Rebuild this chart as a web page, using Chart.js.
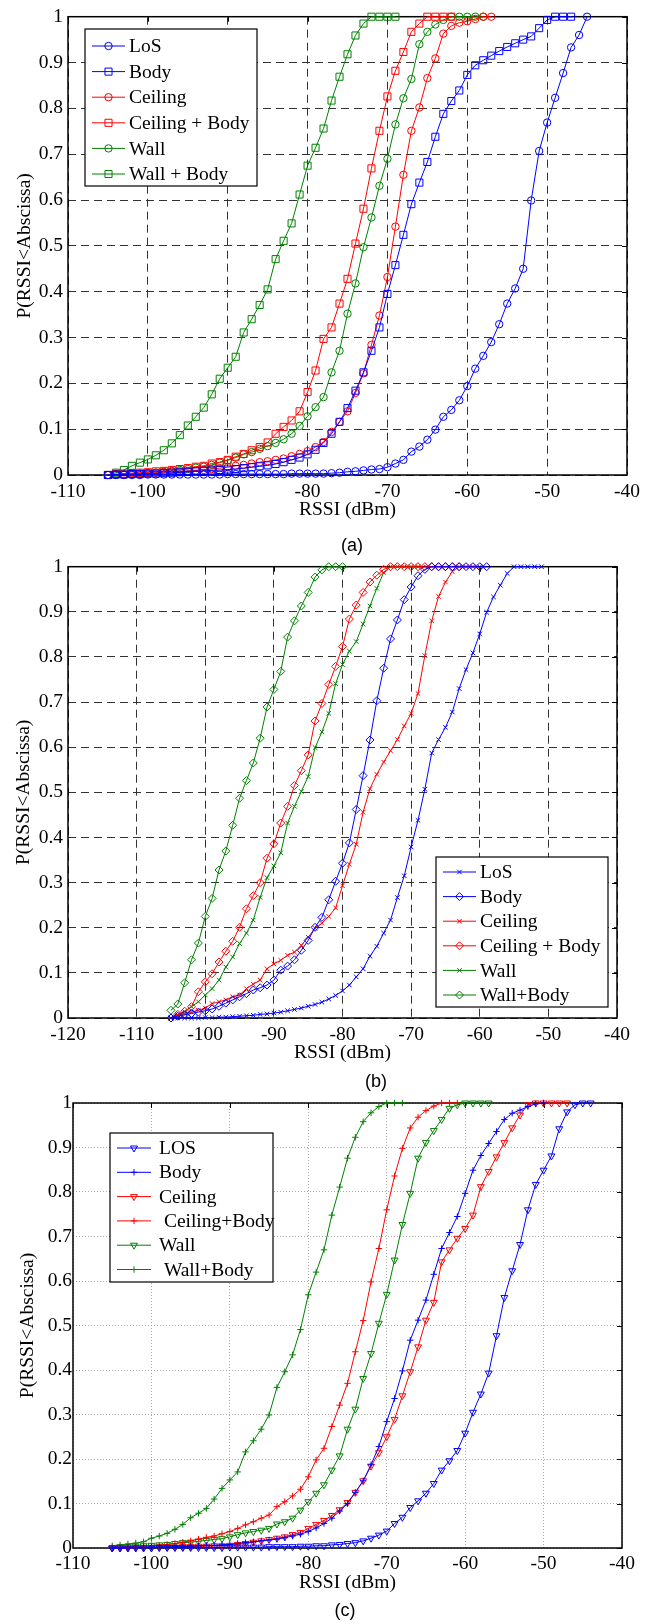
<!DOCTYPE html>
<html>
<head>
<meta charset="utf-8">
<script src="https://cdn.jsdelivr.net/npm/chart.js@4.4.0/dist/chart.umd.min.js"></script>
<style>
  html, body { margin: 0; padding: 0; background: #fff; }
  body { width: 655px; height: 1624px; position: relative; overflow: hidden; }
  canvas { position: absolute; left: 0; }
  .tag { position: absolute; font-family: "Liberation Sans", Arial, sans-serif; font-size: 18px; color: #000;
         transform: translate(-50%, -50%); white-space: nowrap; }
  .probe { position: absolute; left: -999px; top: 0; font-family: "Liberation Serif"; font-size: 10px; }
</style>
</head>
<body>
<span class="probe">P(RSSI&lt;Abscissa) 0.9</span>
<canvas id="chartA" width="655" height="530" style="top:0px"></canvas>
<canvas id="chartB" width="655" height="523" style="top:550px"></canvas>
<canvas id="chartC" width="655" height="513" style="top:1090px"></canvas>
<div class="tag" style="left:352px;top:545px">(a)</div>
<div class="tag" style="left:376px;top:1081px">(b)</div>
<div class="tag" style="left:345px;top:1610px">(c)</div>
<script>
// RSSI steps (dBm), each series starts at -105 and runs as far as its array
const rssi = [-105, -104, -103, -102, -101, -100, -99, -98, -97, -96,
  -95, -94, -93, -92, -91, -90, -89, -88, -87, -86,
  -85, -84, -83, -82, -81, -80, -79, -78, -77, -76,
  -75, -74, -73, -72, -71, -70, -69, -68, -67, -66,
  -65, -64, -63, -62, -61, -60, -59, -58, -57, -56,
  -55, -54, -53, -52, -51, -50, -49, -48, -47, -46,
  -45, -44];

const yTicks = [0, 0.1, 0.2, 0.3, 0.4, 0.5, 0.6, 0.7, 0.8, 0.9, 1];

// panel (a)
const labelsA = ['LoS', 'Body', 'Ceiling', 'Ceiling + Body', 'Wall', 'Wall + Body'];
const aLos = [0, 0, 0, 0, 0, 0.001, 0.001, 0.001, 0.001, 0.001,
  0.001, 0.001, 0.001, 0.001, 0.001, 0.002, 0.002, 0.002, 0.002, 0.002,
  0.002, 0.002, 0.002, 0.003, 0.003, 0.003, 0.003, 0.003, 0.004, 0.005,
  0.007, 0.008, 0.01, 0.012, 0.013, 0.017, 0.025, 0.033, 0.051, 0.062,
  0.077, 0.099, 0.127, 0.142, 0.163, 0.194, 0.232, 0.26, 0.29, 0.329,
  0.374, 0.407, 0.45, 0.599, 0.707, 0.769, 0.823, 0.877, 0.933, 0.96,
  1];
const aBody = [0, 0.001, 0.001, 0.002, 0.002, 0.003, 0.003, 0.004, 0.005, 0.006,
  0.007, 0.008, 0.009, 0.01, 0.011, 0.012, 0.013, 0.015, 0.017, 0.019,
  0.021, 0.024, 0.028, 0.033, 0.038, 0.045, 0.055, 0.07, 0.09, 0.116,
  0.146, 0.184, 0.224, 0.271, 0.322, 0.395, 0.458, 0.524, 0.591, 0.638,
  0.683, 0.738, 0.788, 0.816, 0.839, 0.873, 0.894, 0.905, 0.915, 0.925,
  0.934, 0.942, 0.95, 0.957, 0.975, 0.993, 1, 1, 1];
const aCeiling = [0, 0.001, 0.001, 0.002, 0.003, 0.004, 0.005, 0.006, 0.007, 0.008,
  0.009, 0.01, 0.011, 0.013, 0.015, 0.017, 0.02, 0.022, 0.025, 0.028,
  0.03, 0.033, 0.036, 0.041, 0.046, 0.052, 0.061, 0.072, 0.094, 0.116,
  0.139, 0.179, 0.222, 0.284, 0.348, 0.432, 0.542, 0.655, 0.751, 0.802,
  0.866, 0.909, 0.963, 0.98, 0.987, 0.99, 0.995, 1, 1];
const aCeilingBody = [0, 0.002, 0.003, 0.004, 0.005, 0.006, 0.008, 0.009, 0.011, 0.013,
  0.015, 0.018, 0.02, 0.025, 0.028, 0.033, 0.04, 0.046, 0.054, 0.061,
  0.071, 0.09, 0.105, 0.119, 0.139, 0.181, 0.228, 0.297, 0.322, 0.374,
  0.428, 0.505, 0.581, 0.669, 0.751, 0.826, 0.882, 0.923, 0.967, 0.985,
  1, 1, 1, 1];
const aWall = [0, 0.001, 0.001, 0.002, 0.003, 0.004, 0.005, 0.007, 0.009, 0.011,
  0.013, 0.016, 0.018, 0.022, 0.027, 0.032, 0.038, 0.045, 0.05, 0.057,
  0.063, 0.07, 0.078, 0.09, 0.107, 0.128, 0.148, 0.17, 0.224, 0.271,
  0.352, 0.418, 0.497, 0.562, 0.631, 0.69, 0.765, 0.822, 0.864, 0.94,
  0.967, 0.983, 0.993, 1, 1, 1, 1, 1];
const aWallBody = [0, 0.005, 0.011, 0.02, 0.027, 0.034, 0.043, 0.054, 0.069, 0.087,
  0.108, 0.127, 0.147, 0.176, 0.21, 0.234, 0.258, 0.311, 0.34, 0.371,
  0.405, 0.471, 0.511, 0.549, 0.612, 0.675, 0.714, 0.756, 0.817, 0.869,
  0.918, 0.959, 0.985, 1, 1, 1, 1];

// panel (b)
const labelsB = ['LoS', 'Body', 'Ceiling', 'Ceiling + Body', 'Wall', 'Wall+Body'];
const bLos = [0, 0, 0, 0, 0, 0.001, 0.001, 0.002, 0.002, 0.003,
  0.004, 0.005, 0.006, 0.008, 0.009, 0.011, 0.013, 0.016, 0.019, 0.022,
  0.026, 0.03, 0.035, 0.042, 0.05, 0.06, 0.073, 0.091, 0.109, 0.137,
  0.159, 0.188, 0.217, 0.267, 0.315, 0.379, 0.438, 0.507, 0.587, 0.617,
  0.644, 0.678, 0.73, 0.772, 0.809, 0.851, 0.899, 0.933, 0.959, 0.985,
  1, 1, 1, 1, 1];
const bBody = [0, 0.004, 0.007, 0.01, 0.013, 0.016, 0.02, 0.026, 0.033, 0.04,
  0.047, 0.054, 0.062, 0.067, 0.073, 0.084, 0.106, 0.115, 0.129, 0.15,
  0.172, 0.201, 0.223, 0.262, 0.303, 0.343, 0.388, 0.462, 0.537, 0.616,
  0.703, 0.775, 0.84, 0.882, 0.927, 0.955, 0.98, 0.994, 1, 1,
  1, 1, 1, 1, 1, 1, 1];
const bCeiling = [0, 0.005, 0.01, 0.013, 0.017, 0.022, 0.032, 0.036, 0.04, 0.047,
  0.051, 0.065, 0.075, 0.084, 0.109, 0.12, 0.128, 0.139, 0.146, 0.161,
  0.179, 0.199, 0.21, 0.225, 0.244, 0.293, 0.341, 0.385, 0.456, 0.508,
  0.54, 0.567, 0.592, 0.617, 0.647, 0.675, 0.719, 0.803, 0.88, 0.934,
  0.966, 0.989, 1, 1, 1, 1];
const bCeilingBody = [0, 0.008, 0.015, 0.025, 0.058, 0.08, 0.098, 0.124, 0.148, 0.17,
  0.201, 0.242, 0.271, 0.3, 0.354, 0.386, 0.432, 0.469, 0.515, 0.548,
  0.583, 0.658, 0.697, 0.739, 0.779, 0.823, 0.884, 0.915, 0.943, 0.966,
  0.981, 0.994, 1, 1, 1, 1, 1, 1, 1, 1,
  1, 1, 1];
const bWall = [0, 0.007, 0.014, 0.025, 0.036, 0.051, 0.065, 0.084, 0.113, 0.135,
  0.165, 0.188, 0.217, 0.267, 0.311, 0.337, 0.366, 0.432, 0.469, 0.502,
  0.535, 0.599, 0.634, 0.675, 0.741, 0.783, 0.813, 0.834, 0.873, 0.913,
  0.952, 0.987, 1, 1, 1, 1, 1];
const bWallBody = [0.017, 0.031, 0.078, 0.129, 0.166, 0.225, 0.265, 0.328, 0.37, 0.427,
  0.487, 0.526, 0.565, 0.62, 0.689, 0.728, 0.768, 0.844, 0.88, 0.913,
  0.943, 0.977, 0.993, 1, 1, 1];

// panel (c)
const labelsC = ['LOS', 'Body', 'Ceiling', ' Ceiling+Body', 'Wall', ' Wall+Body'];
const cLos = [0, 0, 0, 0, 0, 0, 0.001, 0.001, 0.001, 0.001,
  0.001, 0.001, 0.001, 0.001, 0.001, 0.002, 0.002, 0.002, 0.002, 0.002,
  0.003, 0.003, 0.003, 0.003, 0.004, 0.004, 0.005, 0.005, 0.007, 0.008,
  0.01, 0.012, 0.016, 0.022, 0.029, 0.038, 0.055, 0.069, 0.091, 0.106,
  0.123, 0.145, 0.175, 0.196, 0.219, 0.258, 0.305, 0.346, 0.393, 0.477,
  0.563, 0.623, 0.682, 0.76, 0.817, 0.849, 0.881, 0.942, 0.98, 0.996,
  1, 1];
const cBody = [0, 0, 0.001, 0.001, 0.001, 0.002, 0.002, 0.003, 0.003, 0.004,
  0.004, 0.005, 0.006, 0.006, 0.007, 0.008, 0.01, 0.012, 0.014, 0.016,
  0.018, 0.02, 0.023, 0.027, 0.031, 0.037, 0.045, 0.055, 0.067, 0.083,
  0.1, 0.125, 0.151, 0.187, 0.228, 0.284, 0.336, 0.398, 0.467, 0.512,
  0.557, 0.615, 0.673, 0.709, 0.745, 0.797, 0.849, 0.882, 0.909, 0.936,
  0.963, 0.977, 0.984, 0.992, 0.998, 1];
const cCeiling = [0, 0, 0, 0.001, 0.001, 0.001, 0.002, 0.002, 0.002, 0.003,
  0.003, 0.004, 0.004, 0.005, 0.005, 0.006, 0.008, 0.01, 0.013, 0.016,
  0.019, 0.022, 0.025, 0.03, 0.035, 0.044, 0.053, 0.062, 0.073, 0.086,
  0.102, 0.125, 0.151, 0.184, 0.214, 0.25, 0.289, 0.342, 0.396, 0.452,
  0.512, 0.552, 0.643, 0.67, 0.696, 0.718, 0.748, 0.812, 0.846, 0.879,
  0.911, 0.944, 0.973, 0.996, 1, 1, 1, 1, 1];
const cCeilingBody = [0, 0.001, 0.002, 0.003, 0.004, 0.005, 0.006, 0.008, 0.01, 0.013,
  0.016, 0.02, 0.024, 0.027, 0.032, 0.037, 0.044, 0.052, 0.059, 0.067,
  0.074, 0.093, 0.104, 0.117, 0.132, 0.16, 0.198, 0.224, 0.273, 0.321,
  0.37, 0.441, 0.511, 0.598, 0.673, 0.76, 0.836, 0.898, 0.944, 0.968,
  0.983, 0.993, 1, 1, 1];
const cWall = [0, 0.002, 0.003, 0.004, 0.005, 0.006, 0.007, 0.008, 0.01, 0.012,
  0.013, 0.015, 0.017, 0.019, 0.021, 0.025, 0.03, 0.034, 0.037, 0.04,
  0.044, 0.054, 0.059, 0.067, 0.085, 0.104, 0.123, 0.142, 0.175, 0.207,
  0.267, 0.312, 0.381, 0.437, 0.505, 0.57, 0.647, 0.727, 0.797, 0.876,
  0.911, 0.938, 0.963, 0.988, 0.996, 1, 1, 1, 1];
const cWallBody = [0.005, 0.007, 0.009, 0.011, 0.014, 0.022, 0.027, 0.033, 0.042, 0.053,
  0.068, 0.078, 0.089, 0.11, 0.134, 0.153, 0.171, 0.216, 0.241, 0.267,
  0.299, 0.361, 0.396, 0.434, 0.491, 0.569, 0.62, 0.67, 0.748, 0.811,
  0.876, 0.923, 0.958, 0.978, 0.992, 1, 1, 1];

const colors = ['#0000ff', '#0000ff', '#ff0000', '#ff0000', '#008000', '#008000'];
const serif = { family: "'Liberation Serif', 'DejaVu Serif', serif", size: 19.5 };

function drawMarker(ctx, style, r, rot, x, y) {
  const rad = (rot || 0) * Math.PI / 180;
  ctx.beginPath();
  if (style === 'circle') {
    ctx.arc(x, y, r, 0, Math.PI * 2);
  } else if (style === 'rect') {
    const s = r * Math.SQRT1_2;
    ctx.rect(x - s, y - s, 2 * s, 2 * s);
  } else if (style === 'rectRot') {
    ctx.moveTo(x - r, y); ctx.lineTo(x, y - r); ctx.lineTo(x + r, y); ctx.lineTo(x, y + r);
    ctx.closePath();
  } else if (style === 'triangle') {
    for (let k = 0; k < 3; k++) {
      const a = rad + k * 2 * Math.PI / 3;
      const px = x + Math.sin(a) * r, py = y - Math.cos(a) * r;
      if (k) ctx.lineTo(px, py); else ctx.moveTo(px, py);
    }
    ctx.closePath();
  } else if (style === 'cross') {
    ctx.moveTo(x, y - r); ctx.lineTo(x, y + r); ctx.moveTo(x - r, y); ctx.lineTo(x + r, y);
  } else if (style === 'crossRot') {
    const d = r * Math.SQRT1_2;
    ctx.moveTo(x - d, y - d); ctx.lineTo(x + d, y + d); ctx.moveTo(x - d, y + d); ctx.lineTo(x + d, y - d);
  }
  ctx.stroke();
}

// box + inner tick marks, matlab style
const frame = {
  id: 'frame',
  beforeDatasetsDraw(chart) {
    const { ctx, chartArea: a, scales } = chart;
    ctx.save();
    ctx.strokeStyle = '#000';
    ctx.lineWidth = 1;
    ctx.beginPath();
    scales.y.ticks.forEach(t => {
      const y = Math.round(scales.y.getPixelForValue(t.value)) + 0.5;
      ctx.moveTo(a.right - 5, y); ctx.lineTo(a.right, y);
    });
    scales.x.ticks.forEach(t => {
      const x = Math.round(scales.x.getPixelForValue(t.value)) + 0.5;
      ctx.moveTo(x, a.top); ctx.lineTo(x, a.top + 5);
    });
    ctx.stroke();
    ctx.lineWidth = 1.5;
    ctx.strokeRect(a.left, a.top, a.right - a.left, a.bottom - a.top);
    ctx.restore();
  }
};

const boxLegend = {
  id: 'boxLegend',
  afterDraw(chart, args, o) {
    const ctx = chart.ctx;
    ctx.save();
    ctx.fillStyle = '#fff';
    ctx.fillRect(o.x, o.y, o.w, o.h);
    ctx.strokeStyle = '#000';
    ctx.lineWidth = 1.2;
    ctx.strokeRect(o.x, o.y, o.w, o.h);
    ctx.font = serif.size + 'px ' + serif.family;
    ctx.textBaseline = 'middle';
    chart.data.datasets.forEach((ds, i) => {
      const y = o.y + o.first + i * o.row;
      ctx.strokeStyle = ds.borderColor;
      ctx.lineWidth = 1;
      ctx.beginPath();
      ctx.moveTo(o.l0, y); ctx.lineTo(o.l1, y);
      ctx.stroke();
      drawMarker(ctx, ds.pointStyle, ds.pointRadius, ds.pointRotation, (o.l0 + o.l1) / 2, y);
      ctx.fillStyle = '#000';
      ctx.fillText(ds.label, o.tx, y + 1);
    });
    ctx.restore();
  }
};

function buildSets(values, labels, markers) {
  return values.map((vals, i) => ({
    label: labels[i],
    data: vals.map((v, k) => ({ x: rssi[k], y: v })),
    borderColor: colors[i],
    borderWidth: 1,
    pointStyle: markers[i][0],
    pointRadius: markers[i][1],
    pointRotation: markers[i][2] || 0,
    pointBorderColor: colors[i],
    pointBackgroundColor: 'rgba(0,0,0,0)',
    pointBorderWidth: 1,
    tension: 0,
    clip: false
  }));
}

function yFmt(v) {
  if (Math.abs(v) < 1e-9) return '0';
  if (Math.abs(v - 1) < 1e-9) return '1';
  return v.toFixed(1);
}

function panel(id, values, labels, markers, p) {
  new Chart(document.getElementById(id), {
    type: 'line',
    data: { datasets: buildSets(values, labels, markers) },
    options: {
      responsive: false,
      animation: false,
      events: [],
      layout: { padding: { left: 0, right: p.right, top: p.top, bottom: 5 } },
      scales: {
        x: {
          type: 'linear', min: p.xMin, max: -40,
          ticks: { stepSize: 10, padding: p.xPad, font: serif, color: '#000', maxRotation: 0, autoSkip: false },
          grid: { color: p.gridColor, lineWidth: 1, drawTicks: false },
          border: { display: false, dash: p.dash },
          title: { display: true, text: 'RSSI (dBm)', font: serif, color: '#000', padding: { top: 0, bottom: 3.3 } },
          afterFit: s => { s.height = 50; }
        },
        y: {
          min: 0, max: 1,
          afterBuildTicks: s => { s.ticks = yTicks.map(v => ({ value: v })); },
          ticks: { padding: p.yPad, font: serif, color: '#000', callback: yFmt },
          grid: { color: p.gridColor, lineWidth: 1, drawTicks: false },
          border: { display: false, dash: p.dash },
          title: { display: true, text: 'P(RSSI<Abscissa)', font: serif, color: '#000', padding: { top: p.yTitlePad, bottom: 0 } },
          afterFit: s => { s.width = p.left; }
        }
      },
      plugins: { legend: { display: false }, tooltip: { enabled: false }, boxLegend: p.legend }
    },
    plugins: [frame, boxLegend]
  });
}

panel('chartA',
  [aLos, aBody, aCeiling, aCeilingBody, aWall, aWallBody], labelsA,
  [['circle', 3.7], ['rect', 5], ['circle', 3.7], ['rect', 5], ['circle', 3.7], ['rect', 5]],
  { xMin: -110, left: 68, right: 28, top: 14, xPad: 5, yPad: 5, yTitlePad: 13.3,
    gridColor: '#333', dash: [8, 5],
    legend: { x: 85, y: 29, w: 172, h: 157, first: 17, row: 25.6, l0: 92, l1: 125, tx: 129 } });

panel('chartB',
  [bLos, bBody, bCeiling, bCeilingBody, bWall, bWallBody], labelsB,
  [['crossRot', 3.2], ['rectRot', 4], ['crossRot', 3.2], ['rectRot', 4], ['crossRot', 3.2], ['rectRot', 4]],
  { xMin: -120, left: 68, right: 38, top: 14, xPad: 5, yPad: 5, yTitlePad: 12.3,
    gridColor: '#333', dash: [8, 5],
    legend: { x: 436, y: 307, w: 172, h: 150, first: 15, row: 24.6, l0: 443, l1: 476, tx: 480 } });

panel('chartC',
  [cLos, cBody, cCeiling, cCeilingBody, cWall, cWallBody], labelsC,
  [['triangle', 4, 180], ['cross', 3.2], ['triangle', 4, 180], ['cross', 3.2], ['triangle', 4, 180], ['cross', 3.2]],
  { xMin: -110, left: 73, right: 33, top: 13, xPad: 4, yPad: 1, yTitlePad: 16.3,
    gridColor: '#aaa', dash: [1, 2],
    legend: { x: 110, y: 43, w: 163, h: 149, first: 15, row: 24.3, l0: 117, l1: 151, tx: 159 } });
</script>
</body>
</html>
